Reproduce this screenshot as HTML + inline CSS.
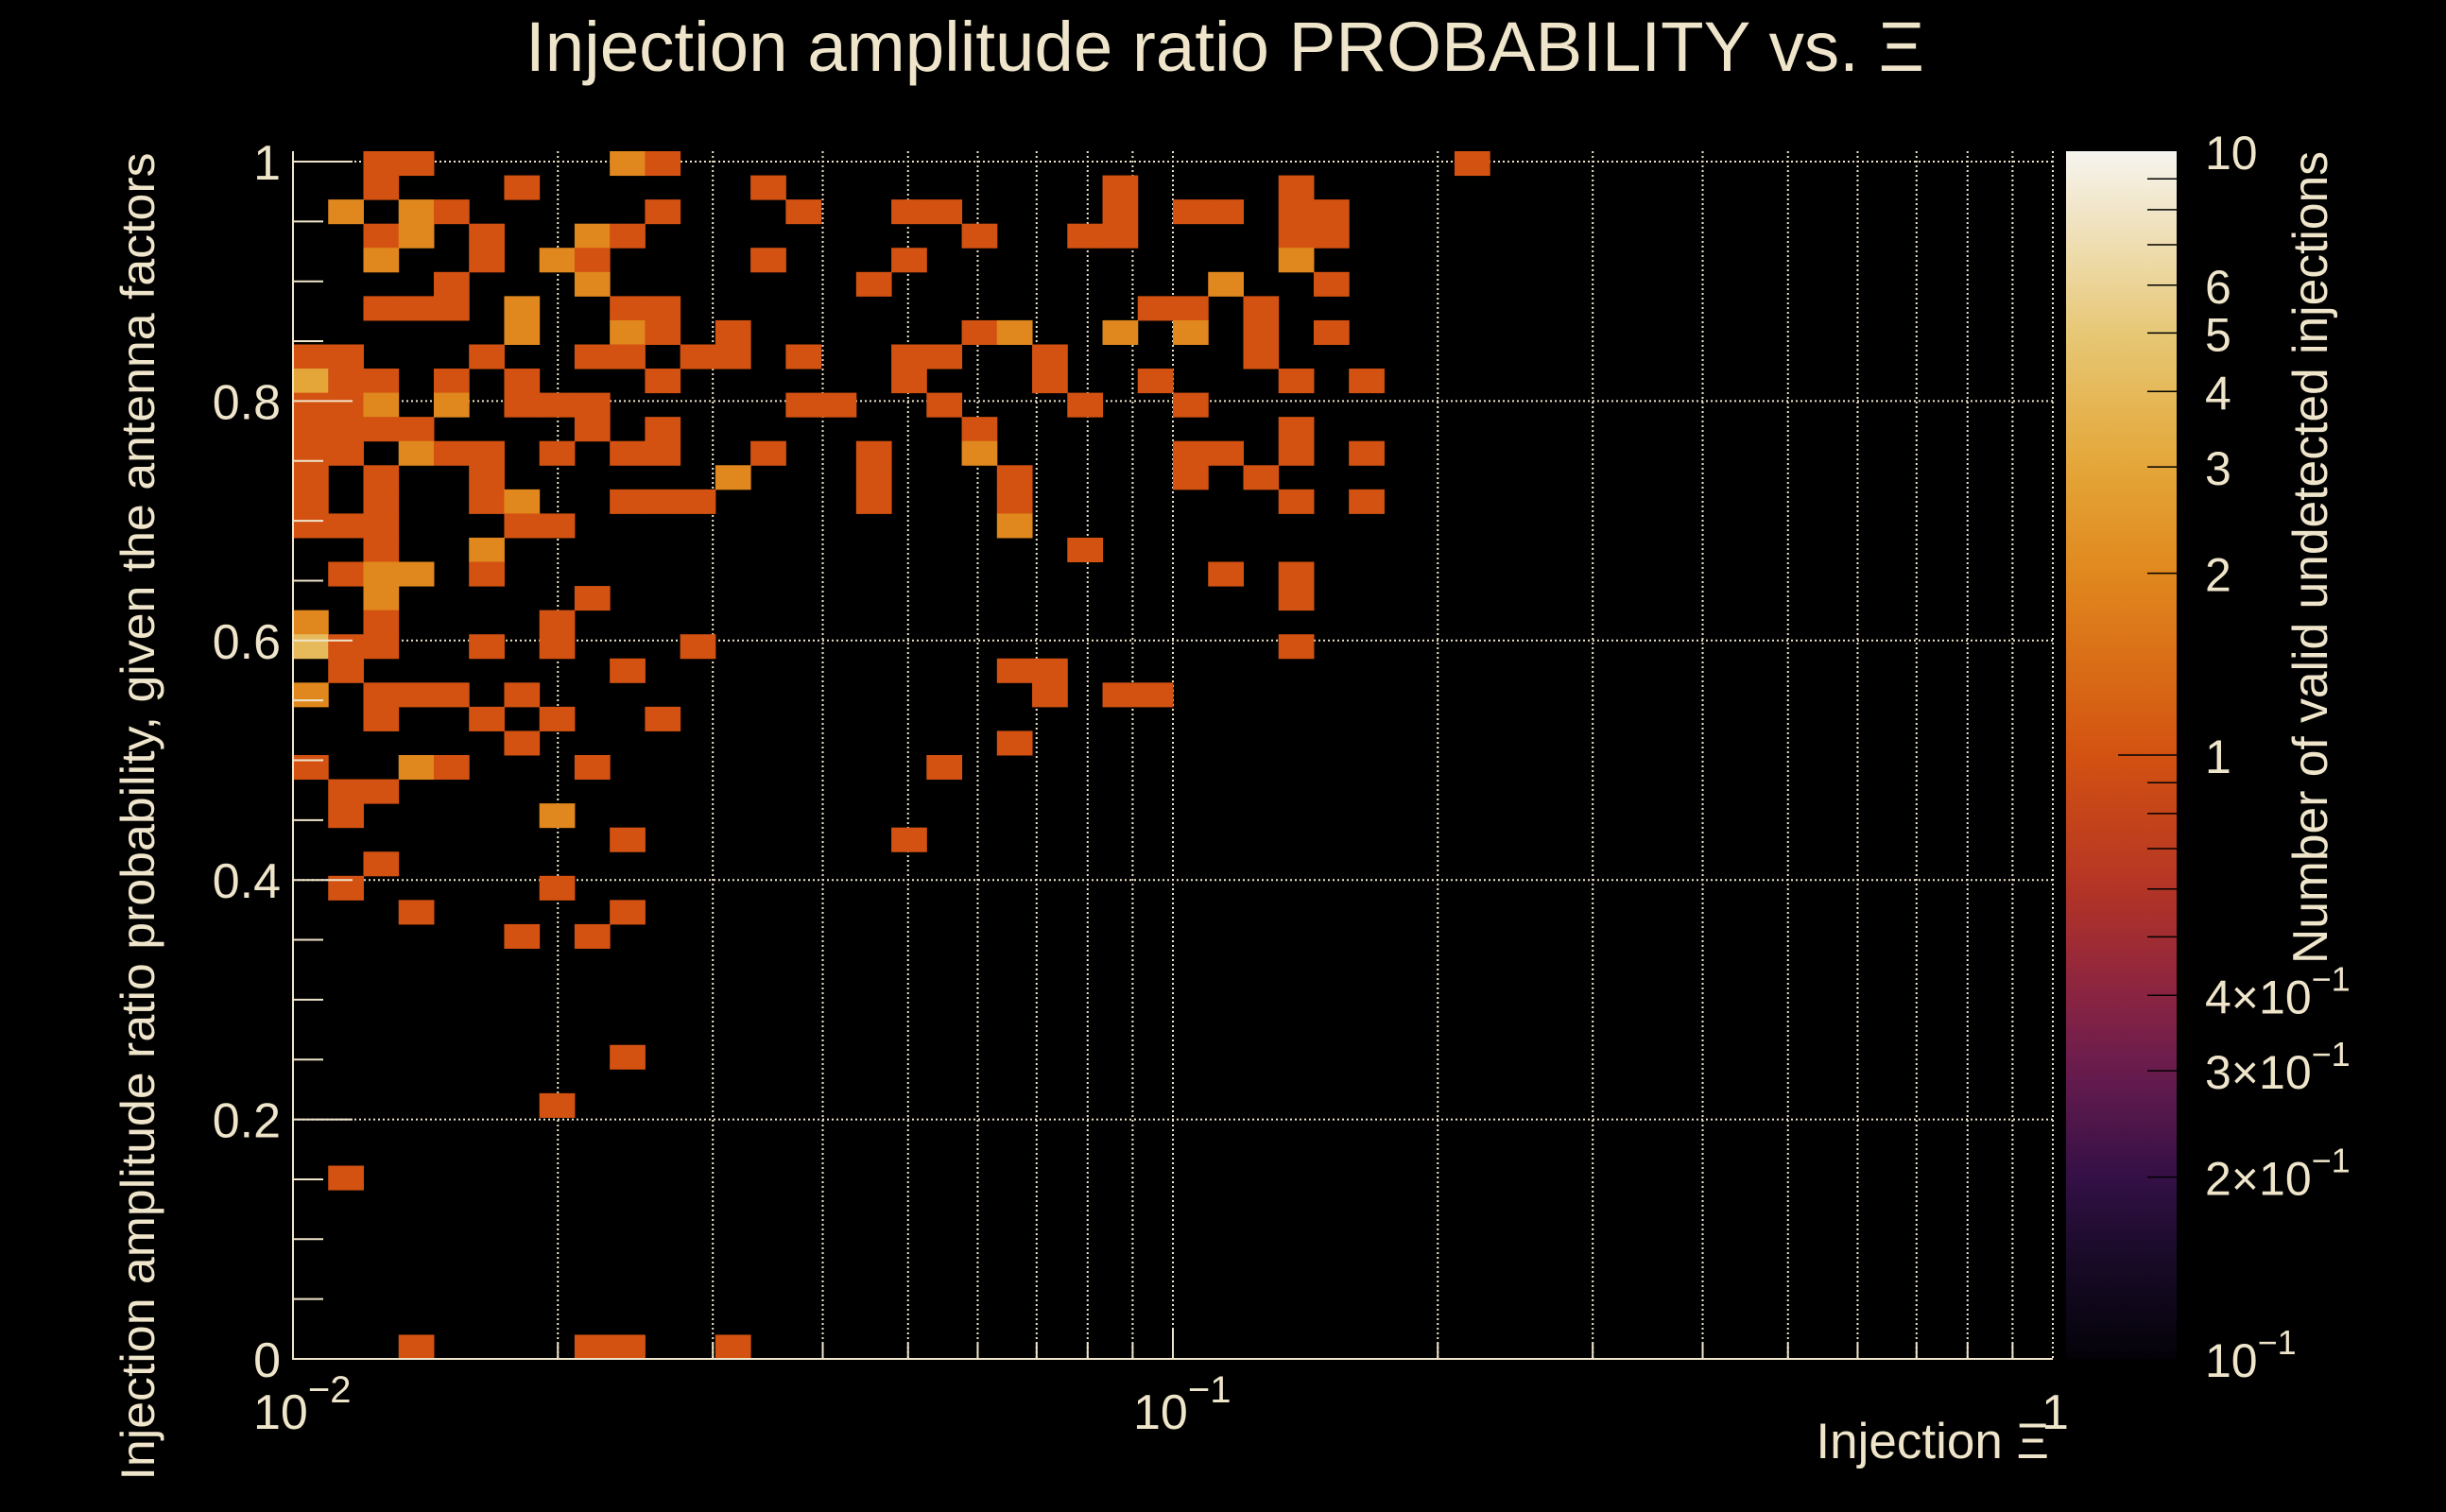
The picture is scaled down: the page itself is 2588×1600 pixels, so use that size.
<!DOCTYPE html>
<html><head><meta charset="utf-8"><style>
html,body{margin:0;padding:0;background:#000;}
svg{display:block;}
text{font-family:"Liberation Sans",sans-serif;fill:#efe5cb;}
</style></head><body>
<svg id="chart" width="2588" height="1600" viewBox="0 0 2588 1600" xmlns="http://www.w3.org/2000/svg">
<defs>
<linearGradient id="cbgrad" x1="0" y1="1" x2="0" y2="0"></linearGradient>
</defs>
<rect x="0" y="0" width="2588" height="1600" fill="#000"/>
<g id="grid"></g>
<g id="cells"></g>
<g id="axes"></g>
<g id="colorbar"></g>
<text x="556" y="75" font-size="74" textLength="1480" lengthAdjust="spacingAndGlyphs">Injection amplitude ratio PROBABILITY vs.  Ξ</text>
<text transform="translate(163,864) rotate(-90)" text-anchor="middle" font-size="50" textLength="1405" lengthAdjust="spacingAndGlyphs">Injection amplitude ratio probability, given the antenna factors</text>
<text x="2168" y="1543" text-anchor="end" font-size="53">Injection Ξ</text>
<text transform="translate(2462,590) rotate(-90)" text-anchor="middle" font-size="52" textLength="860" lengthAdjust="spacingAndGlyphs">Number of valid undetected injections</text>
</svg>
<script>
// ---- data ----
const binX = [2,3,9,10,33, 2,6,13,23,28, 1,3,4,10,14,17,18,23,25,26,28,29, 2,3,5,8,9,19,22,23,28,29, 2,5,7,8,13,17,28, 4,8,16,26,29, 2,3,4,6,9,10,24,25,27, 6,9,10,12,19,20,23,25,27,29, 0,1,5,8,9,11,12,14,17,18,21,27, 0,1,2,4,6,10,17,21,24,28,30, 0,1,2,4,6,7,8,14,15,18,22,25, 0,1,2,3,8,10,19,28, 0,1,3,4,5,7,9,10,13,16,19,25,26,28,30, 0,2,5,12,16,20,25,27, 0,2,5,6,9,10,11,16,20,28,30, 0,1,2,6,7,20, 2,5,22, 1,2,3,5,26,28, 2,8,28, 0,2,7, 0,1,2,5,7,11,28, 1,9,20,21, 0,2,3,4,6,21,23,24, 2,5,7,10, 6,20, 0,3,4,8,18, 1,2, 1,7, 9,17, 2, 1,7, 3,9, 6,8, 9, 7, 1, 3,8,9,12];
const binYFromTop = [0,0,0,0,0, 1,1,1,1,1, 2,2,2,2,2,2,2,2,2,2,2,2, 3,3,3,3,3,3,3,3,3,3, 4,4,4,4,4,4,4, 5,5,5,5,5, 6,6,6,6,6,6,6,6,6, 7,7,7,7,7,7,7,7,7,7, 8,8,8,8,8,8,8,8,8,8,8,8, 9,9,9,9,9,9,9,9,9,9,9, 10,10,10,10,10,10,10,10,10,10,10,10, 11,11,11,11,11,11,11,11, 12,12,12,12,12,12,12,12,12,12,12,12,12,12,12, 13,13,13,13,13,13,13,13, 14,14,14,14,14,14,14,14,14,14,14, 15,15,15,15,15,15, 16,16,16, 17,17,17,17,17,17, 18,18,18, 19,19,19, 20,20,20,20,20,20,20, 21,21,21,21, 22,22,22,22,22,22,22,22, 23,23,23,23, 24,24, 25,25,25,25,25, 26,26, 27,27, 28,28, 29, 30,30, 31,31, 32,32, 37, 39, 42, 49,49,49,49];
const counts = [1,1,2,1,1, 1,1,1,1,1, 2,2,1,1,1,1,1,1,1,1,1,1, 1,2,1,2,1,1,1,1,1,1, 2,1,2,1,1,1,2, 1,2,1,2,1, 1,1,1,2,1,1,1,1,1, 2,2,1,1,1,2,2,2,1,1, 1,1,1,1,1,1,1,1,1,1,1,1, 3,1,1,1,1,1,1,1,1,1,1, 1,1,2,2,1,1,1,1,1,1,1,1, 1,1,1,1,1,1,1,1, 1,1,2,1,1,1,1,1,1,1,2,1,1,1,1, 1,1,1,2,1,1,1,1, 1,1,1,2,1,1,1,1,1,1,1, 1,1,1,1,1,2, 1,2,1, 1,2,2,1,1,1, 2,1,1, 2,1,1, 4,1,1,1,1,1,1, 1,1,1,1, 2,1,1,1,1,1,1,1, 1,1,1,1, 1,1, 1,2,1,1,1, 1,1, 1,2, 1,1, 1, 1,1, 1,1, 1,1, 1, 1, 1, 1,1,1,1];
const xTickValues = [0.01, 0.1, 1];
const xTickExp = ["−2", "−1", ""];
const yTickValues = [0, 0.2, 0.4, 0.6, 0.8, 1];
const yTickLabels = ["0", "0.2", "0.4", "0.6", "0.8", "1"];
const zTickValues = [10, 6, 5, 4, 3, 2, 1, 0.4, 0.3, 0.2, 0.1];
const zTickLabels = ["10", "6", "5", "4", "3", "2", "1", "4×10", "3×10", "2×10", "10"];
const zTickExp = ["", "", "", "", "", "", "", "−1", "−1", "−1", "−1"];

// ---- geometry ----
const NS = "http://www.w3.org/2000/svg";
const PX0 = 310, PX1 = 2172, PY0 = 1438, PYtop = 160;
const XMIN = 0.01, XMAX = 1, NBX = 50, NBY = 50;
const YUNIT = 1267;
const YMAXF = (PY0 - PYtop) / YUNIT;
const ZMIN = 0.1, ZMAX = 10;
const CB0 = 2186, CB1 = 2303;
function xScale(v){ return PX0 + (Math.log10(v) - Math.log10(XMIN)) / (Math.log10(XMAX) - Math.log10(XMIN)) * (PX1 - PX0); }
function yScale(v){ return PY0 - v * YUNIT; }
function zScale(v){ return PY0 - (Math.log10(v) - Math.log10(ZMIN)) / (Math.log10(ZMAX) - Math.log10(ZMIN)) * (PY0 - PYtop); }
function xEdge(i){ return Math.pow(10, Math.log10(XMIN) + i * (Math.log10(XMAX) - Math.log10(XMIN)) / NBX); }
function yEdge(j){ return j * YMAXF / NBY; }

const palette = [[0.1,[4,2,8]],[0.15,[26,11,42]],[0.2,[52,16,70]],[0.3,[104,28,78]],[0.4,[138,36,66]],[0.6,[180,52,38]],[1,[211,82,17]],[2,[224,136,30]],[3,[228,166,56]],[5,[231,200,118]],[10,[246,244,239]]];
function colorOf(v){
  const lv = Math.log10(v);
  for (let k = 0; k < palette.length - 1; k++) {
    const a = Math.log10(palette[k][0]), b = Math.log10(palette[k+1][0]);
    if (lv <= b) {
      const t = Math.max(0, (lv - a) / (b - a));
      const c = palette[k][1].map((cv, m) => Math.round(cv + t * (palette[k+1][1][m] - cv)));
      return "rgb(" + c.join(",") + ")";
    }
  }
  return "rgb(246,244,239)";
}
function mk(tag, attrs, parent){ const e = document.createElementNS(NS, tag); for (const k in attrs) e.setAttribute(k, attrs[k]); parent.appendChild(e); return e; }

// ---- grid ----
const grid = document.getElementById("grid");
const GC = "#efe5cb";
for (let d = -2; d < 0; d++) {
  for (let m = 1; m <= 9; m++) {
    const v = m * Math.pow(10, d);
    if (v <= XMIN) continue;
    const x = xScale(v);
    const l = mk("line", {x1:x, y1:PYtop, x2:x, y2:PY0, stroke:GC, "stroke-width":2, "stroke-dasharray":"2,3"}, grid);
    
    
  }
}
{
  const x = xScale(1);
  const l = mk("line", {x1:x, y1:PYtop, x2:x, y2:PY0, stroke:GC, "stroke-width":2, "stroke-dasharray":"2,3"}, grid);
  
  
}
yTickValues.forEach(v => {
  const y = yScale(v);
  const l = mk("line", {x1:PX0, y1:y, x2:PX1, y2:y, stroke:GC, "stroke-width":2, "stroke-dasharray":"2,3"}, grid);
  
  
});

// ---- cells ----
const cells = document.getElementById("cells");
for (let k = 0; k < counts.length; k++) {
  const i = binX[k], j = NBY - 1 - binYFromTop[k];
  const x0 = xScale(xEdge(i)), x1 = xScale(xEdge(i + 1));
  const y0 = yScale(yEdge(j + 1)), y1 = yScale(yEdge(j));
  const r = mk("rect", {x:x0, y:y0, width:x1 - x0 + 0.5, height:y1 - y0 + 0.5, fill:colorOf(counts[k])}, cells);
  
  
}

// ---- axes ----
const axes = document.getElementById("axes");
const AC = "#efe5cb";
let la = mk("line", {x1:PX0, y1:PYtop, x2:PX0, y2:PY0 + 1, stroke:AC, "stroke-width":2}, axes);


let lb = mk("line", {x1:PX0, y1:PY0, x2:PX1, y2:PY0, stroke:AC, "stroke-width":2}, axes);


for (let k = 0; k <= 20; k++) {
  const v = k * 0.05;
  const y = yScale(v);
  const len = (k % 4 === 0) ? 63 : 32;
  const t = mk("line", {x1:PX0, y1:y, x2:PX0 + len, y2:y, stroke:AC, "stroke-width":2}, axes);
  
  
}
for (let d = -2; d < 0; d++) {
  for (let m = 1; m <= 9; m++) {
    const v = m * Math.pow(10, d);
    const x = xScale(v);
    const len = m === 1 ? 32 : 17;
    const t = mk("line", {x1:x, y1:PY0, x2:x, y2:PY0 - len, stroke:AC, "stroke-width":2}, axes);
    
    
  }
}
yTickValues.forEach((v, k) => {
  const t = mk("text", {x:297, y:yScale(v) + 19, "text-anchor":"end", "font-size":52}, axes);
  t.textContent = yTickLabels[k];
  
  
});
xTickValues.forEach((v, k) => {
  const t = mk("text", {x:xScale(v) - (xTickExp[k] ? 42 : 0), y:1512, "font-size":52}, axes);
  if (xTickExp[k]) {
    t.textContent = "10";
    const s = mk("tspan", {dy:-28, "font-size":40}, t);
    s.textContent = xTickExp[k];
  } else {
    t.setAttribute("y", 1512);
    t.setAttribute("font-size", 52);
    t.setAttribute("x", xScale(v) - 12);
    t.textContent = "1";
  }
  
  
});

// ---- colorbar ----
const grad = document.getElementById("cbgrad");
const lz0 = Math.log10(ZMIN), lz1 = Math.log10(ZMAX);
for (let k = 0; k <= 40; k++) {
  const lv = lz0 + k * (lz1 - lz0) / 40;
  mk("stop", {offset:(k / 40), "stop-color":colorOf(Math.pow(10, lv))}, grad);
}
const cb = document.getElementById("colorbar");
const cr = mk("rect", {x:CB0, y:PYtop, width:CB1 - CB0, height:PY0 - PYtop, fill:"url(#cbgrad)"}, cb);


[0.2,0.3,0.4,0.5,0.6,0.7,0.8,0.9,1,2,3,4,5,6,7,8,9].forEach(v => {
  const y = zScale(v);
  const t = mk("line", {x1:CB1 - (v === 1 ? 62 : 31), y1:y, x2:CB1, y2:y, stroke:"#000", "stroke-width":1.5}, cb);
  
  
});
zTickValues.forEach((v, k) => {
  const t = mk("text", {x:2333, y:zScale(v) + 19, "font-size":50}, cb);
  t.textContent = zTickLabels[k];
  if (zTickExp[k]) {
    const s = mk("tspan", {dy:-24, "font-size":36}, t);
    s.textContent = zTickExp[k];
  }
  
  
});
</script>
</body></html>
